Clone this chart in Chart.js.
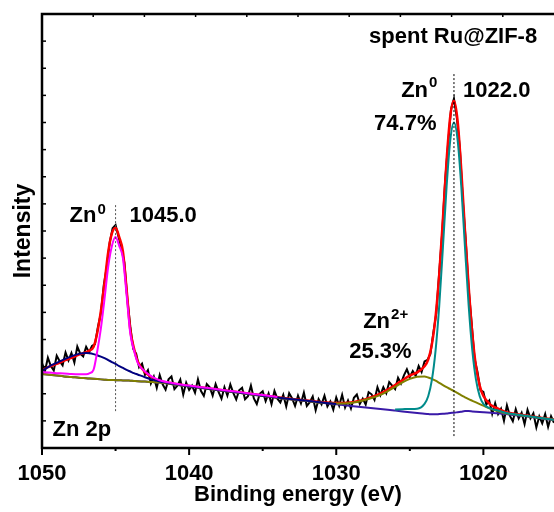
<!DOCTYPE html>
<html>
<head>
<meta charset="utf-8">
<title>Zn 2p XPS</title>
<script src="https://cdn.jsdelivr.net/npm/chart.js@4.4.1/dist/chart.umd.min.js"></script>
<style>
  html, body { margin: 0; padding: 0; background: #fff; }
</style>
</head>
<body>
<canvas id="xpsChart" width="554" height="512"></canvas>
<script>
// Zn 2p region, spent Ru@ZIF-8 — binding energy in eV, intensity in arbitrary units
const xMin = 1015.2;
const xMax = 1050;
const majorTicks = [1050, 1040, 1030, 1020];
const minorTicks = [1045, 1035, 1025];

// measured spectrum, 0.2 eV steps starting at 1050 eV
const scanCounts = [
  3.13, 2.83, 3.33, 3.02, 2.86, 3.40, 3.20, 3.05, 3.52, 3.23,
  3.50, 3.15, 3.74, 3.48, 3.38, 3.73, 3.53, 3.76,
  3.83, 4.46, 4.96, 6.00, 6.67, 7.57, 8.10, 8.22, 7.79, 7.36,
  6.83, 5.50, 4.48, 3.65, 3.48, 2.98, 3.11, 2.70,
  2.87, 2.38, 2.63, 2.22, 2.69, 2.35, 2.15, 2.53, 2.64, 2.17,
  2.30, 2.52, 1.97, 2.41, 2.14, 2.30, 2.04, 2.53, 2.11, 1.92,
  2.36, 2.24, 1.93, 2.36, 2.07, 1.82, 2.24, 1.93, 2.34, 2.03,
  1.79, 2.13, 2.22, 1.80, 1.91, 2.30, 1.83, 1.62, 2.00, 2.09,
  1.73, 2.01, 1.62, 2.10, 1.82, 1.68, 1.96, 1.53, 2.02, 1.83,
  1.55, 1.93, 1.65, 2.04, 1.55, 1.69, 1.90, 1.39, 1.80, 1.61,
  1.93, 1.53, 1.72, 1.41, 1.86, 1.56, 1.96, 1.49, 1.75, 1.46,
  1.85, 1.97, 1.62, 1.82, 1.60, 2.06, 1.98, 1.77, 2.24, 1.95,
  2.24, 2.02, 2.43, 2.30, 2.17, 2.59, 2.38, 2.68, 2.90, 2.62,
  2.84, 2.66,
  3.02, 2.80, 3.19, 3.25, 3.47, 4.25, 4.97, 6.48, 7.92, 9.85,
  11.20, 12.48, 12.88, 12.15, 11.07, 9.15, 7.65, 5.87, 4.62, 3.30,
  2.80, 2.13, 2.07, 1.60,
  1.75, 1.26, 1.65, 1.25, 1.45, 1.00, 1.57, 1.19, 0.99, 1.43,
  1.09, 1.30, 0.88, 1.41, 1.09, 1.28, 0.76, 1.17, 0.91, 1.25,
  0.78, 1.17, 0.93
];
const scanEnergy = scanCounts.map((_, i) => xMax - i * 0.2);

// energies of the fitted curves
const fitEnergy = [
  1050, 1049.5, 1049, 1048.5, 1048, 1047.5, 1047, 1046.75, 1046.5, 1046.25,
  1046, 1045.75, 1045.5, 1045.25, 1045, 1044.75, 1044.5, 1044.25, 1044, 1043.75,
  1043.5, 1043, 1042.5, 1042, 1041, 1040, 1039, 1038, 1037, 1036,
  1035, 1034, 1033, 1032, 1031, 1030, 1029, 1028, 1027, 1026.5,
  1026, 1025.5, 1025, 1024.5, 1024, 1023.75, 1023.5, 1023.25, 1023, 1022.75,
  1022.5, 1022.25, 1022, 1021.75, 1021.5, 1021.25, 1021, 1020.75, 1020.5, 1020.25,
  1020, 1019.5, 1019, 1018.5, 1018, 1017, 1016, 1015.2
];

const fitEnvelope = [
  2.88, 3.00, 3.10, 3.22, 3.32, 3.44, 3.53, 3.60, 3.72, 4.23,
  5.04, 6.09, 7.22, 7.91, 8.12, 7.77, 7.25, 5.85, 4.36, 3.68,
  3.20, 2.80, 2.60, 2.47, 2.37, 2.29, 2.22, 2.15, 2.08, 2.01,
  1.94, 1.87, 1.81, 1.75, 1.69, 1.66, 1.68, 1.80, 2.00, 2.15,
  2.32, 2.50, 2.67, 2.79, 3.01, 3.26, 3.82, 4.83, 6.40, 8.45,
  10.60, 12.23, 12.80, 12.05, 10.23, 8.00, 5.95, 4.20, 3.00, 2.30,
  1.92, 1.59, 1.45, 1.33, 1.27, 1.19, 1.11, 1.05
];

// Zn0 2p1/2
const zn0High = [
  2.80, 2.78, 2.76, 2.75, 2.73, 2.72, 2.72, 2.76, 2.88, 3.55,
  4.40, 5.50, 6.69, 7.45, 7.78, 7.45, 7.00, 5.65, 4.23, 3.60,
  3.15, 2.82, 2.62, 2.50, 2.38, 2.30, 2.23, 2.16, 2.09, 2.02,
  1.95, 1.88, null, null, null, null, null, null, null, null,
  null, null, null, null, null, null, null, null, null, null,
  null, null, null, null, null, null, null, null, null, null,
  null, null, null, null, null, null, null, null
];

// Zn2+ 2p1/2
const zn2High = [
  2.84, 3.01, 3.14, 3.27, 3.38, 3.47, 3.50, 3.49, 3.46, 3.42,
  3.37, 3.31, 3.24, 3.17, 3.10, 3.02, 2.95, 2.88, 2.82, 2.76,
  2.71, 2.61, 2.52, 2.45, 2.36, 2.28, 2.21, 2.14, 2.07, 2.00,
  1.93, 1.86, 1.80, 1.74, 1.68, 1.62, null, null, null, null,
  null, null, null, null, null, null, null, null, null, null,
  null, null, null, null, null, null, null, null, null, null,
  null, null, null, null, null, null, null, null
];

// Zn0 2p3/2
const zn0Low = [
  null, null, null, null, null, null, null, null, null, null,
  null, null, null, null, null, null, null, null, null, null,
  null, null, null, null, null, null, null, null, null, null,
  null, null, null, null, null, null, null, null, null, null,
  1.42, 1.43, 1.44, 1.45, 1.63, 1.91, 2.51, 3.59, 5.25, 7.39,
  9.63, 11.35, 12.00, 11.35, 9.63, 7.39, 5.25, 3.59, 2.51, 1.91,
  1.63, 1.45, 1.38, 1.30, 1.25, 1.18, 1.10, 1.04
];

// Zn2+ 2p3/2 (drawn with its background across the scan)
const zn2Low = [
  2.73, 2.70, 2.67, 2.64, 2.62, 2.59, 2.57, 2.56, 2.55, 2.54,
  2.53, 2.52, 2.51, 2.51, 2.50, 2.50, 2.49, 2.49, 2.48, 2.47,
  2.46, 2.45, 2.43, 2.41, 2.34, 2.27, 2.20, 2.13, 2.06, 1.99,
  1.92, 1.85, 1.79, 1.73, 1.67, 1.64, 1.66, 1.78, 1.96, 2.10,
  2.25, 2.42, 2.55, 2.63, 2.64, 2.60, 2.55, 2.48, 2.40, 2.32,
  2.24, 2.17, 2.10, 2.02, 1.94, 1.87, 1.80, 1.74, 1.68, 1.62,
  1.56, 1.44, 1.35, 1.28, 1.24, 1.17, 1.10, 1.04
];

const background = [
  2.73, 2.70, 2.67, 2.64, 2.62, 2.59, 2.57, 2.56, 2.55, 2.54,
  2.53, 2.52, 2.51, 2.51, 2.50, 2.50, 2.49, 2.49, 2.48, 2.47,
  2.46, 2.45, 2.43, 2.41, 2.34, 2.27, 2.20, 2.13, 2.06, 1.99,
  1.92, 1.85, 1.79, 1.73, 1.67, 1.61, 1.55, 1.49, 1.44, 1.41,
  1.38, 1.35, 1.32, 1.29, 1.26, 1.25, 1.24, 1.24, 1.25, 1.26,
  1.27, 1.29, 1.30, 1.32, 1.34, 1.36, 1.36, 1.35, 1.34, 1.33,
  1.32, 1.30, 1.28, 1.25, 1.22, 1.16, 1.09, 1.03
];

// dotted markers at the Zn0 peak positions: [energy, bottom, top]
const peakMarks = [
  [1045.0, 1.36, 8.96],
  [1022.0, 0.44, 13.86]
];

const fontFamily = "'Liberation Sans', Arial, sans-serif";

// text placed in data coordinates (energy, intensity at baseline)
const notes = [
  { text: 'spent Ru@ZIF-8', e: 1027.77, i: 14.93 },
  { text: 'Zn', sup: '0', rise: 8, e: 1048.13, i: 8.33 },
  { text: '1045.0', e: 1044.05, i: 8.33 },
  { text: 'Zn', sup: '0', rise: 10, e: 1025.59, i: 12.94 },
  { text: '1022.0', e: 1021.38, i: 12.94 },
  { text: '74.7%', e: 1027.43, i: 11.72 },
  { text: 'Zn', sup: '2+', rise: 9, e: 1028.17, i: 4.42 },
  { text: '25.3%', e: 1029.12, i: 3.32 },
  { text: 'Zn 2p', e: 1049.28, i: 0.44 }
];

function pairs(xs, ys) {
  return xs.map((x, i) => ({ x: x, y: ys[i] }));
}

function fitLine(label, values, color, order, width) {
  return {
    label: label,
    data: pairs(fitEnergy, values),
    borderColor: color,
    borderWidth: width || 2,
    pointRadius: 0,
    fill: false,
    spanGaps: false,
    cubicInterpolationMode: 'monotone',
    order: order
  };
}

// lower order is painted later, i.e. on top
const datasets = [
  {
    label: 'measured',
    data: pairs(scanEnergy, scanCounts),
    borderColor: '#000',
    borderWidth: 2,
    pointRadius: 0,
    tension: 0,
    order: 10
  },
  fitLine('envelope', fitEnvelope, '#ff0000', 9, 2.5),
  fitLine('background', background, '#3a1aa8', 8),
  fitLine('Zn2+ 2p3/2', zn2Low, '#808000', 7),
  fitLine('Zn0 2p3/2', zn0Low, '#008b8b', 6),
  fitLine('Zn2+ 2p1/2', zn2High, '#000080', 5),
  fitLine('Zn0 2p1/2', zn0High, '#ff00ff', 4)
];

peakMarks.forEach((m, k) => {
  datasets.push({
    label: 'mark' + k,
    data: [{ x: m[0], y: m[1] }, { x: m[0], y: m[2] }],
    borderColor: k === 0 ? '#555' : '#000',
    borderWidth: 1,
    borderDash: [2, 2],
    pointRadius: 0,
    order: 1
  });
});

// axes frame and tick marks
const framePlugin = {
  id: 'frame',
  afterDatasetsDraw(chart) {
    const { ctx, chartArea: a, scales: { x, y } } = chart;
    ctx.save();
    ctx.strokeStyle = '#000';
    ctx.lineCap = 'butt';

    ctx.lineWidth = 2;
    majorTicks.forEach(v => {
      const px = x.getPixelForValue(v);
      ctx.beginPath(); ctx.moveTo(px, a.bottom); ctx.lineTo(px, a.bottom + 7); ctx.stroke();
    });
    minorTicks.forEach(v => {
      const px = x.getPixelForValue(v);
      ctx.beginPath(); ctx.moveTo(px, a.bottom); ctx.lineTo(px, a.bottom + 3); ctx.stroke();
    });

    ctx.lineWidth = 1.5;
    for (let v = y.min + 1; v < y.max; v++) {
      const py = y.getPixelForValue(v);
      ctx.beginPath(); ctx.moveTo(a.left, py); ctx.lineTo(a.left + 4, py); ctx.stroke();
    }
    const topStep = (x.max - x.min) / 10;
    for (let k = 1; k < 10; k++) {
      const px = x.getPixelForValue(x.max - k * topStep);
      ctx.beginPath(); ctx.moveTo(px, a.top); ctx.lineTo(px, a.top + 3); ctx.stroke();
    }

    ctx.lineWidth = 2.5;
    ctx.beginPath();
    ctx.moveTo(a.right, a.top);
    ctx.lineTo(a.left, a.top);
    ctx.lineTo(a.left, a.bottom);
    ctx.lineTo(a.right, a.bottom);
    ctx.stroke();
    ctx.restore();
  }
};

const notePlugin = {
  id: 'notes',
  afterDatasetsDraw(chart) {
    const { ctx, scales: { x, y } } = chart;
    ctx.save();
    ctx.fillStyle = '#000';
    ctx.textBaseline = 'alphabetic';
    ctx.textAlign = 'left';
    notes.forEach(n => {
      const px = x.getPixelForValue(n.e);
      const py = y.getPixelForValue(n.i);
      ctx.font = 'bold 22px ' + fontFamily;
      ctx.fillText(n.text, px, py);
      if (n.sup) {
        const w = ctx.measureText(n.text).width;
        ctx.font = 'bold 15px ' + fontFamily;
        ctx.fillText(n.sup, px + w + 1, py - n.rise);
      }
    });
    ctx.restore();
  }
};

new Chart(document.getElementById('xpsChart').getContext('2d'), {
  type: 'line',
  data: { datasets: datasets },
  options: {
    responsive: false,
    animation: false,
    devicePixelRatio: 1,
    layout: { padding: { top: 14, right: 0, bottom: 0, left: 0 } },
    plugins: {
      legend: { display: false },
      tooltip: { enabled: false }
    },
    scales: {
      x: {
        type: 'linear',
        reverse: true,
        min: xMin,
        max: xMax,
        afterBuildTicks: s => { s.ticks = majorTicks.map(v => ({ value: v })); },
        afterFit: s => { s.height = 64; },
        grid: { display: false, drawTicks: false },
        border: { display: false },
        ticks: {
          color: '#000',
          padding: 13,
          maxRotation: 0,
          autoSkip: false,
          callback: v => String(v),
          font: { family: fontFamily, size: 22, weight: 'bold' }
        },
        title: {
          display: true,
          text: 'Binding energy (eV)',
          color: '#000',
          padding: { top: 0, bottom: 6 },
          font: { family: fontFamily, size: 22, weight: 'bold', lineHeight: 1 }
        }
      },
      y: {
        min: 0,
        max: 16,
        afterFit: s => { s.width = 42; },
        grid: { display: false, drawTicks: false },
        border: { display: false },
        ticks: { display: false },
        title: {
          display: true,
          text: 'Intensity',
          color: '#000',
          padding: { top: 10, bottom: 0 },
          font: { family: fontFamily, size: 23, weight: 'bold', lineHeight: 1.2 }
        }
      }
    }
  },
  plugins: [framePlugin, notePlugin]
});
</script>
</body>
</html>
